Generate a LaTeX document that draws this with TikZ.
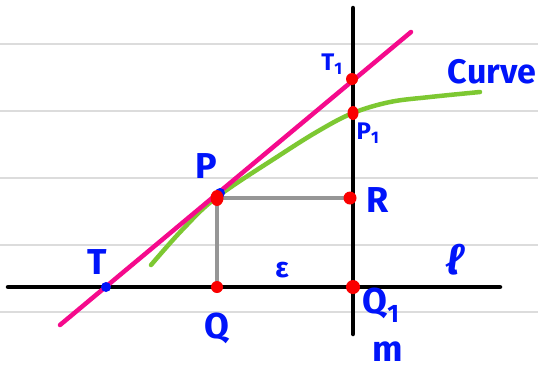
\documentclass[tikz,border=0pt]{standalone}
\usepackage{fontspec}
\setmainfont{Fira Sans}
\definecolor{inkblue}{RGB}{0,20,250}
\definecolor{inkpink}{RGB}{245,10,140}
\definecolor{inkgreen}{RGB}{125,200,50}
\definecolor{inkred}{RGB}{250,0,0}
\definecolor{inkgray}{RGB}{150,150,150}
\definecolor{rulegray}{RGB}{220,220,220}
\tikzset{
  ruled/.style={rulegray, line width=1.5pt},
  axisline/.style={black, line width=4.5pt, line cap=round},
  tangent/.style={inkpink, line width=4.5pt, line cap=round},
  curveline/.style={inkgreen, line width=4.5pt, line cap=round},
  proj/.style={inkgray, line width=4pt},
  lbl/.style={inkblue, font=\fontsize{36}{36}\selectfont\bfseries, inner sep=0pt},
  sublbl/.style={inkblue, font=\fontsize{24}{24}\selectfont\bfseries, inner sep=0pt},
  reddot/.style={fill=inkred, draw=none},
}
\begin{document}
\begin{tikzpicture}[x=1pt, y=-1pt]
\useasboundingbox (0,0) rectangle (538,376);
\fill[white] (0,0) rectangle (538,376);
% ruled paper
\foreach \yy in {44,111,178,245,312} \draw[ruled] (0,\yy) -- (538,\yy);
% coordinates
\coordinate (lA) at (8,287);
\coordinate (lB) at (500,287);
\coordinate (mA) at (353,8);
\coordinate (mB) at (353,334);
\coordinate (tA) at (60,325);
\coordinate (tB) at (411,32);
\coordinate (P) at (217,198);
\coordinate (Q) at (217,287);
\coordinate (R) at (350,198);
\coordinate (Q1) at (353,287);
\coordinate (T) at (106,287);
\coordinate (T1) at (352,79);
\coordinate (P1) at (353,113);
% projections
\draw[proj] (Q) -- (P) -- (R);
% axes
\draw[axisline] (lA) -- (lB);
\draw[axisline] (mA) -- (mB);
% curve
\draw[curveline] plot[smooth, tension=0.6] coordinates {(151,265) (183,229) (217,197) (280,155) (320,130) (353,113) (390,102) (430,97) (480,92)};
% tangent
\draw[tangent] (tA) -- (tB);
% dots
\fill[inkblue] (T) circle (5);
\fill[inkblue] (220,193) circle (5);
\fill[reddot] (P) ellipse (6.5 and 8);
\fill[reddot] (Q) circle (6);
\fill[reddot] (R) circle (6.5);
\fill[reddot] (Q1) circle (7);
\fill[reddot] (T1) circle (6);
\fill[reddot] (P1) ellipse (5.5 and 7);
% labels
\node[lbl] (Tl) at (97,262) {T};
\node[lbl] (Pl) at (206,166) {P};
\node[lbl] (Ql) at (217,328) {Q};
\node[inkblue, font=\fontsize{28}{28}\selectfont\bfseries, inner sep=0pt] (El) at (282,270) {ε};
\node[lbl] (Rl) at (378,200) {R};
\node[lbl, font=\fontsize{40}{40}\selectfont\itshape\bfseries] (ll) at (455,260) {ℓ};
\node[lbl] (Q1l) at (381,305) {Q\textsubscript{1}};
\node[lbl] (ml) at (388,352) {m};
\node[sublbl] (T1l) at (332,64) {T\textsubscript{1}};
\node[sublbl] (P1l) at (368,133) {P\textsubscript{1}};
\node[lbl, font=\fontsize{34}{34}\selectfont\bfseries] (Cl) at (492,72) {Curve};
\end{tikzpicture}
\end{document}
